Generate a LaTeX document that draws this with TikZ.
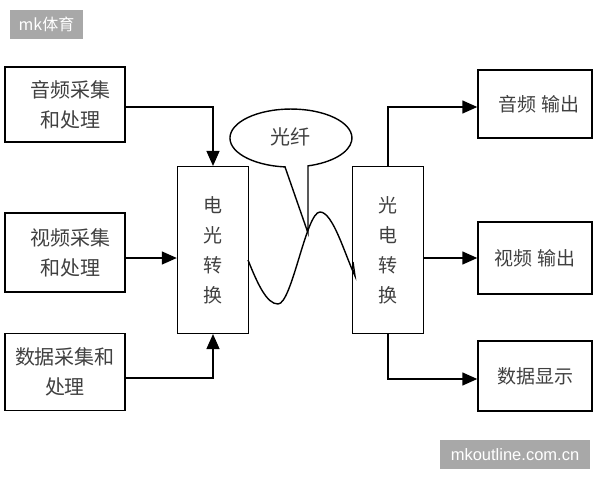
\documentclass[tikz,border=0pt]{standalone}
\usepackage{fontspec}
\setmainfont{Liberation Sans}
\newfontfamily\cjk{Noto Sans CJK SC}
\usetikzlibrary{arrows.meta}
\begin{document}
\begin{tikzpicture}[x=1pt,y=-1pt]
\useasboundingbox (0,0) rectangle (600,480);
\tikzset{
  blk/.style={draw, line width=1.4pt, inner sep=0pt, align=center, text=black!75,
    font=\cjk\fontsize{20pt}{30pt}\selectfont},
  blkr/.style={blk, font=\cjk\fontsize{19pt}{30pt}\selectfont},
  arr/.style={line width=1.4pt, -{Triangle[length=15pt,width=13pt]}},
  wm/.style={fill=black!34, text=white, inner sep=0pt, minimum height=29pt},
  ln/.style={line width=1.4pt}
}
% watermarks
\node[wm, minimum width=73pt, font=\cjk\fontsize{16pt}{18pt}\selectfont] (wm1) at (46.5,24.5) {mk体育};
\node[wm, minimum width=150pt, font=\fontsize{16.5pt}{18pt}\selectfont] (wm2) at (515,454.5) {mkoutline.com.cn};
% left boxes
\node[blk, minimum width=120pt, minimum height=75pt] (ain) at (65,104.5) {\hspace*{10pt}音频采集\\\hspace*{10pt}和处理};
\node[blk, minimum width=120pt, minimum height=79pt] (vin) at (65,252.5) {\hspace*{10pt}视频采集\\\hspace*{10pt}和处理};
\node[blk, minimum width=120pt, minimum height=77pt] (din) at (65,372) {数据采集和\\处理};
% converters
\node[blk, minimum width=71pt, minimum height=166.7pt, font=\cjk\fontsize{19pt}{30pt}\selectfont] (eo) at (213,250) {电\\光\\转\\换};
\node[blk, minimum width=71pt, minimum height=166.7pt, font=\cjk\fontsize{19pt}{30pt}\selectfont] (oe) at (388,250) {光\\电\\转\\换};
% right boxes
\node[blkr, minimum width=114pt, minimum height=68pt] (aout) at (535,104) {\hspace*{8pt}音频 输出};
\node[blkr, minimum width=114pt, minimum height=72pt] (vout) at (535,258) {视频 输出};
\node[blkr, minimum width=114pt, minimum height=70pt] (dout) at (535,376) {数据显示};
% connectors
\coordinate (a1) at ([yshift=-2.5pt]ain.east);
\draw[arr] (a1) -| (eo.north);
\coordinate (v1) at ([yshift=-5.5pt]vin.east);
\draw[arr] (v1) -- (v1 -| eo.west);
\coordinate (d1) at ([yshift=-6pt]din.east);
\draw[arr] (d1) -| (eo.south);
\coordinate (a2) at ([yshift=-3pt]aout.west);
\draw[arr] (oe.north) |- (a2);
\draw[arr] (vout.west -| oe.east) -- (vout.west);
\coordinate (d2) at ([yshift=-3pt]dout.west);
\draw[arr] (oe.south) |- (d2);
% callout
\draw[ln, fill=white] (308,233) -- (285,166.9)
  arc[start angle=95.6, end angle=433.8, x radius=61, y radius=29] -- cycle;
\node[font=\cjk\fontsize{20pt}{24pt}\selectfont, text=black!75, inner sep=0pt] (fib) at (290,137) {光纤};
% fibre
\draw[ln] (248,260) .. controls (258,285) and (267,304) .. (278,304)
  .. controls (292,304) and (306,212) .. (320,212)
  .. controls (333,212) and (345,255) .. (355,276) -- (353,262);
\end{tikzpicture}
\end{document}
